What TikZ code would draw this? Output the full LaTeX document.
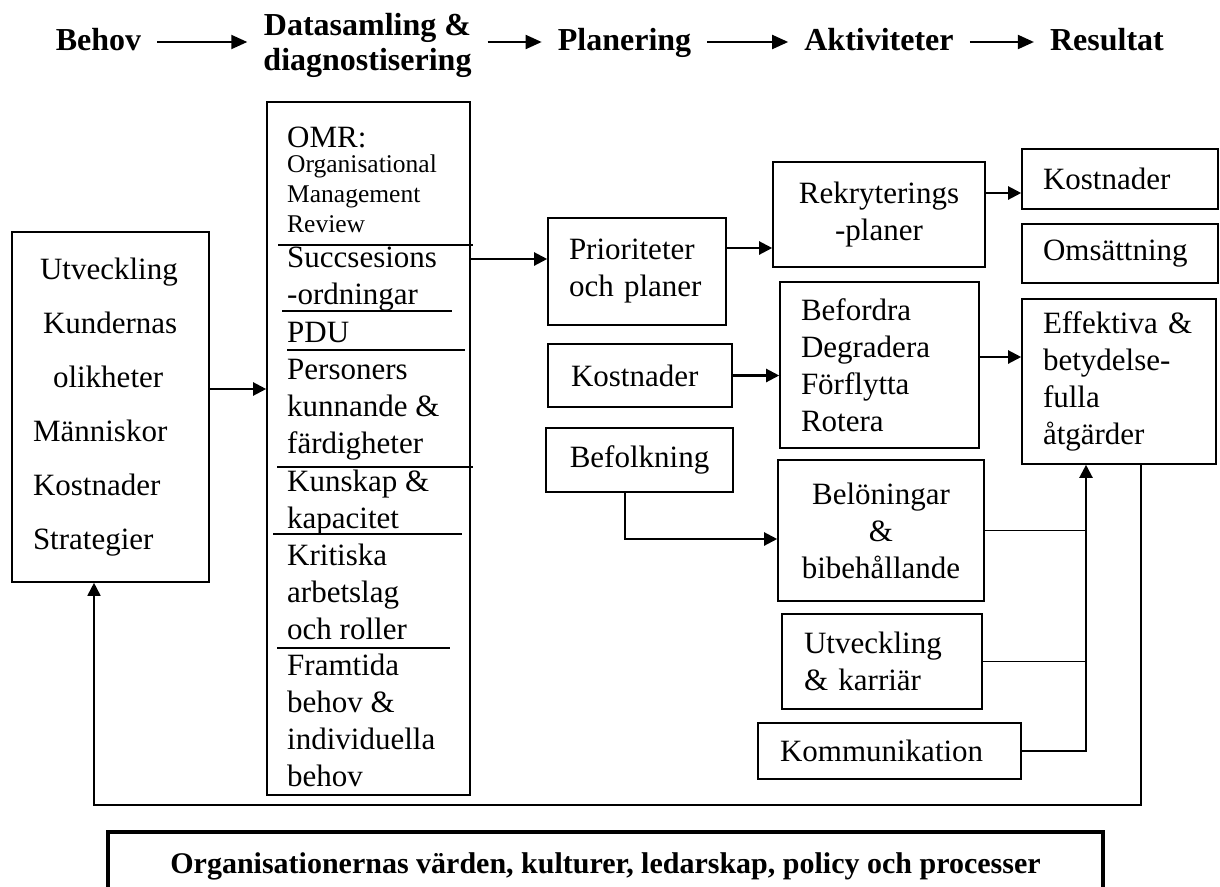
\documentclass[tikz,border=0pt]{standalone}
\usepackage{fontspec}
\setmainfont{Liberation Serif}
\usepackage{tikz}
\usetikzlibrary{arrows.meta}
\newcommand{\bodyfont}{\fontsize{31}{37}\selectfont}
\newcommand{\headfont}{\fontsize{32}{35}\selectfont\bfseries}
\newcommand{\omrsmall}{\fontsize{25.5}{30}\selectfont}

\begin{document}
\begin{tikzpicture}[
    x=1pt, y=-1pt,
    >={Triangle[length=13pt,width=13pt]},
    box/.style={draw, line width=1.6pt, inner sep=0pt, font=\bodyfont},
    padbox/.style={box, align=left, inner xsep=21pt},
    midbox/.style={box, align=center},
    head/.style={font=\headfont, inner sep=0pt, inner xsep=16pt, anchor=base},
    omrtxt/.style={font=\bodyfont, inner sep=0pt, align=left, anchor=base west},
    arr/.style={->, line width=2.2pt},
    harr/.style={-{Triangle[length=16pt,width=14pt]}, line width=2pt},
    link/.style={line width=1.3pt},
    rule/.style={line width=1.8pt}
  ]
  \useasboundingbox (0,0) rectangle (1220,886);

  % Phases (base of a multi-line node = its last line)
  \node[head, text height=22pt, text depth=6pt] (behov) at (98.5,50) {Behov};
  \node[head, align=center] (data) at (367.5,70) {Datasamling \&\\diagnostisering};
  \node[head, text height=22pt, text depth=6pt] (plan) at (624.5,50) {Planering};
  \node[head, text height=22pt, text depth=6pt] (akt) at (879,50) {Aktiviteter};
  \node[head, text height=22pt, text depth=6pt] (res) at (1107,50) {Resultat};

  \draw[harr] (behov.east) -- (behov.east -| data.west);
  \draw[harr] (data.east |- plan.west) -- (plan.west);
  \draw[harr] (plan.east) -- (akt.west);
  \draw[harr] (akt.east) -- (res.west);

  % Needs
  \node[padbox, text width=155pt, minimum height=350pt,
        font=\fontsize{31}{54}\selectfont] (need) at (110.5,407)
    {\hspace*{7pt}Utveckling\\\hspace*{10pt}Kundernas\\\hspace*{20pt}olikheter\\
     Människor\\Kostnader\\Strategier};

  % OMR column
  \node[box, minimum width=203pt, minimum height=693pt] (omr) at (368.5,448.5) {};
  \node[omrtxt] (omr0) at (287,147) {OMR:};
  \node[omrtxt, font=\omrsmall] (omr1) at (287,232)
    {Organisational\\Management\\Review};
  \node[omrtxt] (omr2) at (287,304) {Succsesions\\-ordningar};
  \node[omrtxt] (omr3) at (287,342) {PDU};
  \node[omrtxt] (omr4) at (287,453) {Personers\\kunnande \&\\färdigheter};
  \node[omrtxt] (omr5) at (287,528) {Kunskap \&\\kapacitet};
  \node[omrtxt] (omr6) at (287,639) {Kritiska\\arbetslag\\och roller};
  \node[omrtxt] (omr7) at (287,786) {Framtida\\behov \&\\individuella\\behov};

  \draw[rule] (278,245) -- (473,245);
  \draw[rule] (282,311) -- (452,311);
  \draw[rule] (287,350) -- (465,350);
  \draw[rule] (277,467) -- (473,467);
  \draw[rule] (273,534) -- (462,534);
  \draw[rule] (277,648) -- (450,648);

  % Planning and activities
  \node[padbox, text width=136pt, minimum height=107pt] (prio) at (637,271.5)
    {Prioriteter\\och planer};
  \node[midbox, minimum width=212pt, minimum height=105pt] (rekr) at (879,214.5)
    {Rekryterings\\-planer};
  \node[padbox, inner xsep=23pt, text width=138pt, minimum height=63pt] (kostb)
    at (640,375.5) {Kostnader};
  \node[midbox, minimum width=187pt, minimum height=64pt] (befolk) at (639.5,460)
    {Befolkning};
  \node[padbox, text width=157pt, minimum height=166pt] (bef) at (879.5,365)
    {Befordra\\Degradera\\Förflytta\\Rotera};
  \node[midbox, minimum width=206pt, minimum height=141pt] (belon) at (881,530.5)
    {Belöningar\\\&\\bibehållande};
  \node[padbox, inner xsep=22pt, text width=156pt, minimum height=95pt] (utv)
    at (882,661.5) {Utveckling\\\& karriär};
  \node[padbox, inner xsep=22pt, text width=219pt, minimum height=56pt] (komm)
    at (889.5,751) {Kommunikation};

  % Results
  \node[padbox, text width=154pt, minimum height=60pt] (kosta) at (1120,179)
    {Kostnader};
  \node[padbox, text width=154pt, minimum height=59pt] (oms) at (1120,253.5)
    {Omsättning};
  \node[padbox, text width=152pt, minimum height=165pt] (eff) at (1119,381.5)
    {Effektiva \&\\betydelse-\\fulla\\åtgärder};

  % Base
  \node[draw, line width=4.5pt, inner sep=0pt, minimum width=995pt,
        minimum height=68pt, font=\fontsize{30}{36}\selectfont\bfseries]
    (org) at (605.5,866)
    {Organisationernas värden, kulturer, ledarskap, policy och processer};

  % Connectors
  \coordinate (a1) at ([yshift=18pt]need.east);
  \draw[arr] (a1) -- (a1 -| omr.west);
  \coordinate (a2) at ([yshift=12.5pt]prio.west);
  \draw[arr] (a2 -| omr.east) -- (a2);
  \coordinate (a3) at ([yshift=23.5pt]prio.east);
  \draw[arr] (a3) -- (a3 -| rekr.west);
  \coordinate (a4) at ([yshift=-14pt]kosta.west);
  \draw[arr] (a4 -| rekr.east) -- (a4);
  \draw[arr] (kostb.east) -- (kostb.east -| bef.west);
  \coordinate (a6) at ([yshift=8pt]bef.east);
  \draw[arr] (a6) -- (a6 -| eff.west);
  \draw[arr] ([xshift=-14.5pt]befolk.south) |- ([yshift=-8.5pt]belon.west);

  \coordinate (bus) at ([xshift=-33pt]eff.south);
  \draw[arr] (komm.east) -| (bus);
  \draw[link] (belon.east) -- (belon.east -| bus);
  \draw[link] (utv.east) -- (utv.east -| bus);

  % Feedback
  \coordinate (fb) at ([xshift=-16.5pt]need.south);
  \coordinate (fbb) at (94,805);
  \draw[arr, line width=1.8pt] ([xshift=22pt]eff.south) |- (fbb) -- (fb);
\end{tikzpicture}
\end{document}
